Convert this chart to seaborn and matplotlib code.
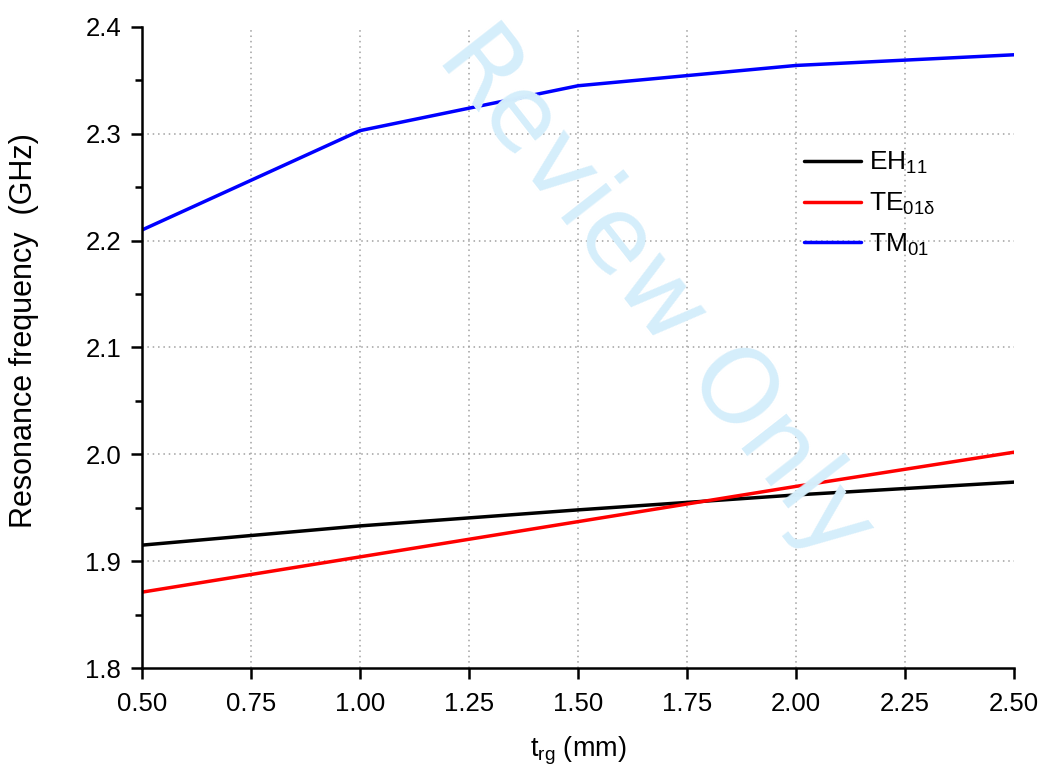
import numpy as np
import pandas as pd
import matplotlib
matplotlib.use("Agg")
import matplotlib.pyplot as plt
import seaborn as sns
from matplotlib.ticker import MultipleLocator

t_rg = [0.5, 1.0, 1.5, 2.0, 2.5]
eh11 = [1.915, 1.933, 1.948, 1.962, 1.974]
te01d = [1.871, 1.904, 1.937, 1.970, 2.002]
tm01 = [2.210, 2.303, 2.345, 2.364, 2.374]
labels = [r"EH$_{11}$", r"TE$_{01\delta}$", r"TM$_{01}$"]
colors = ["#000000", "#ff0000", "#0000ff"]
x_ticks = [0.5, 0.75, 1.0, 1.25, 1.5, 1.75, 2.0, 2.25, 2.5]
y_ticks = [1.8, 1.9, 2.0, 2.1, 2.2, 2.3, 2.4]

sns.set_style("ticks")
plt.rcParams["font.family"] = ["Liberation Sans", "DejaVu Sans"]
plt.rcParams["mathtext.fontset"] = "custom"
plt.rcParams["mathtext.rm"] = "Liberation Sans"
plt.rcParams["mathtext.it"] = "Liberation Sans"
plt.rcParams["mathtext.default"] = "regular"
plt.rcParams["text.color"] = "black"
plt.rcParams["axes.labelcolor"] = "black"
plt.rcParams["axes.edgecolor"] = "black"
plt.rcParams["xtick.color"] = "black"
plt.rcParams["ytick.color"] = "black"

df = pd.DataFrame({
    "t": t_rg * 3,
    "f": eh11 + te01d + tm01,
    "mode": [labels[0]] * 5 + [labels[1]] * 5 + [labels[2]] * 5,
})

fig = plt.figure(figsize=(10.41, 7.69), dpi=100)
ax = fig.add_axes([142 / 1041, 1 - 668 / 769, (1014 - 142) / 1041, (668 - 27) / 769])

# watermark
fig.text(0.63, 0.618, "Review Only", fontsize=75, color="#d5eefb", rotation=-52,
         family="DejaVu Sans", ha="center", va="center", zorder=0,
         rotation_mode="anchor")

sns.lineplot(data=df, x="t", y="f", hue="mode", palette=colors, linewidth=2.5,
             ax=ax, legend=True)

ax.set_xlim(0.5, 2.5)
ax.set_ylim(1.8, 2.4)
ax.set_xticks(x_ticks)
ax.set_xticklabels([f"{v:.2f}" for v in x_ticks])
ax.set_yticks(y_ticks)
ax.set_yticklabels([f"{v:.1f}" for v in y_ticks])
ax.yaxis.set_minor_locator(MultipleLocator(0.05))

ax.patch.set_alpha(0)
for v in x_ticks[1:-1]:
    ax.axvline(v, color="#a0a0a0", linestyle=(0, (1, 2.5)), linewidth=1.1, zorder=0)
for v in y_ticks[1:-1]:
    ax.axhline(v, color="#a0a0a0", linestyle=(0, (1, 2.5)), linewidth=1.1, zorder=0)

sns.despine(ax=ax)
for s in ["left", "bottom"]:
    ax.spines[s].set_linewidth(1.8)
ax.tick_params(axis="both", which="major", direction="out", length=8, width=1.8,
               labelsize=18.5, colors="black")
ax.tick_params(axis="x", which="major", pad=9)
ax.tick_params(axis="y", which="major", pad=7)
ax.tick_params(axis="y", which="minor", direction="out", length=5, width=1.8)

ax.set_xlabel(r"t$_{rg}$ (mm)", fontsize=19.5, labelpad=14)
ax.set_ylabel("Resonance frequency  (GHz)", fontsize=22)
ax.yaxis.set_label_coords(-0.118, 0.527)

leg = ax.legend(loc="upper left", bbox_to_anchor=(0.732, 0.845), frameon=False,
                fontsize=19, handlelength=2.15, handletextpad=0.3, labelspacing=0.55)
for line in leg.get_lines():
    line.set_linewidth(2.5)

fig.savefig("out.png", dpi=100)
